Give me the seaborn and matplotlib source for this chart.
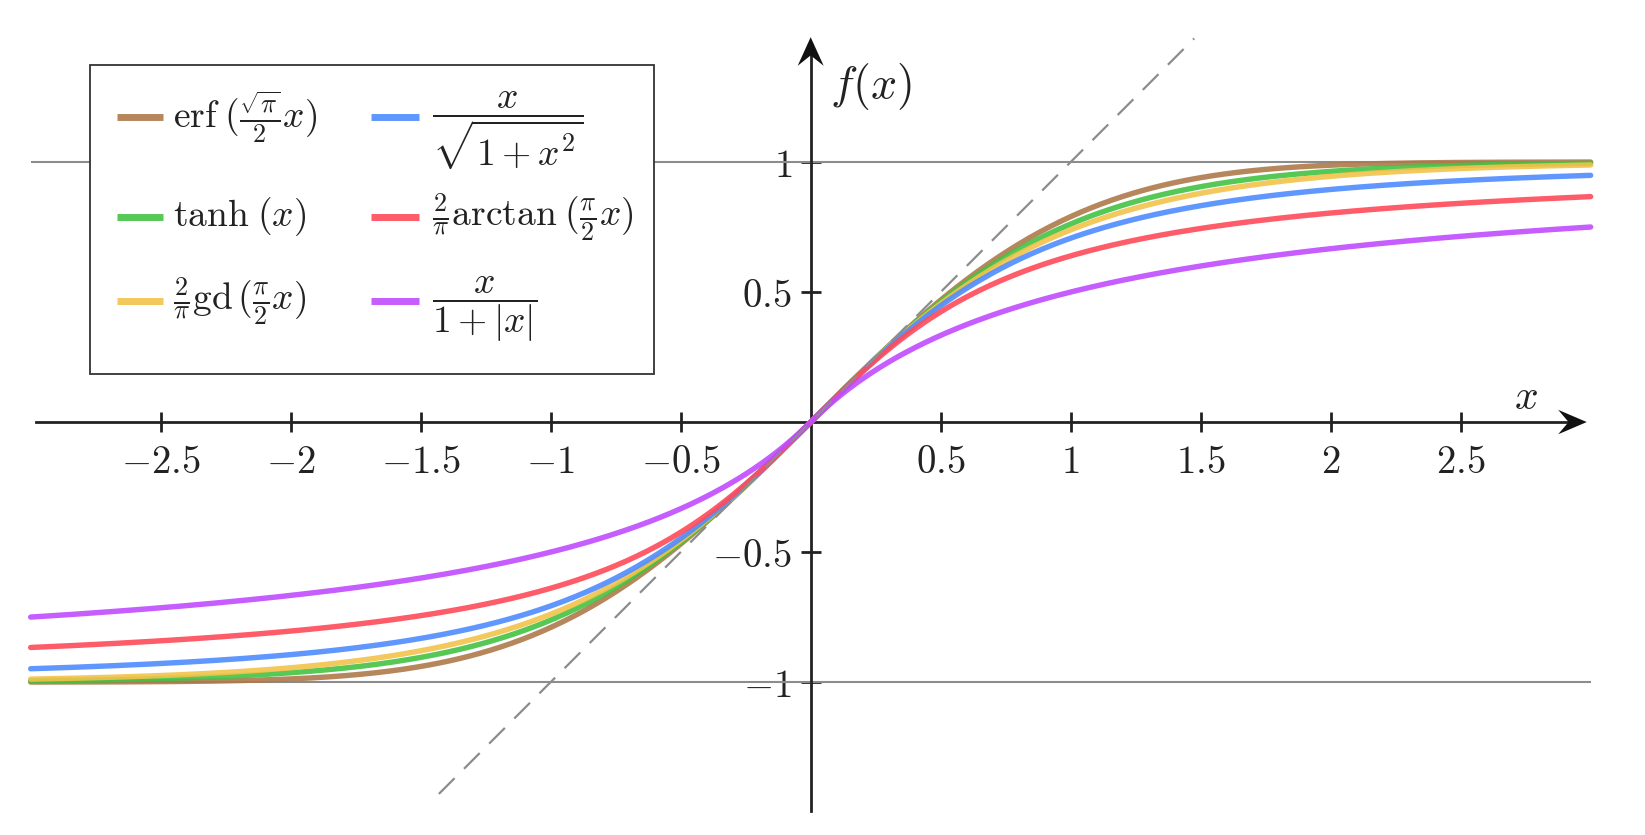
import math
import numpy as np
import pandas as pd
import matplotlib
matplotlib.use("Agg")
import matplotlib.pyplot as plt
from matplotlib.patches import Rectangle
import seaborn as sns

# function labels (key order: column 1 then column 2) and colours
labels = [
    r"$\mathrm{erf}\;(\frac{\sqrt{\pi}}{2}x)$",
    r"$\mathrm{tanh}\;(x)$",
    r"$\frac{2}{\pi}\mathrm{gd}\,(\frac{\pi}{2}x)$",
    r"$\dfrac{x}{\sqrt{1+x^2}}$",
    r"$\frac{2}{\pi}\mathrm{arctan}\;(\frac{\pi}{2}x)$",
    r"$\dfrac{x}{1+|x|}$",
]
colors = ["#AE7A4A", "#44C244", "#F2C24A", "#4F8CFF", "#FF4A5A", "#C04BFF"]

x_ticks = [-2.5, -2, -1.5, -1, -0.5, 0.5, 1, 1.5, 2, 2.5]
x_tick_labels = [r"$-2.5$", r"$-2$", r"$-1.5$", r"$-1$", r"$-0.5$",
                 r"$0.5$", r"$1$", r"$1.5$", r"$2$", r"$2.5$"]
y_ticks = [-1, -0.5, 0.5, 1]
y_tick_labels = [r"$-1$", r"$-0.5$", r"$0.5$", r"$1$"]

x = np.linspace(-3, 3, 601)
erf = np.vectorize(math.erf)
curves = [
    erf(np.sqrt(np.pi) / 2 * x),
    np.tanh(x),
    4 / np.pi * np.arctan(np.tanh(np.pi * x / 4)),
    x / np.sqrt(1 + x ** 2),
    2 / np.pi * np.arctan(np.pi / 2 * x),
    x / (1 + np.abs(x)),
]

df = pd.concat(
    [pd.DataFrame({"x": x, "y": y, "f": lab}) for lab, y in zip(labels, curves)],
    ignore_index=True,
)

sns.set_style("white")
plt.rcParams["mathtext.fontset"] = "cm"
plt.rcParams["font.family"] = ["DejaVu Serif"]

W, H = 1645, 835
fig = plt.figure(figsize=(W / 100, H / 100), dpi=100)
ax = fig.add_axes([0, 0, 1, 1])
ax.set_xlim(-3.118, 3.209)
ax.set_ylim(-1.588, 1.623)

# asymptotes and identity line
ax.hlines([-1, 1], -3, 3, color="#8c8c8c", lw=1.5, zorder=1)
ax.plot([-1.43, 1.475], [-1.43, 1.475], color="#8c8c8c", lw=1.6,
        ls=(0, (10, 6)), zorder=4)

sns.lineplot(data=df, x="x", y="y", hue="f", hue_order=labels,
             palette=colors, estimator=None, sort=False, lw=3.9,
             alpha=0.9, ax=ax, zorder=3, legend=False)

# axes through the origin
for side in ["top", "right"]:
    ax.spines[side].set_visible(False)
ax.spines["bottom"].set_position(("data", 0))
ax.spines["left"].set_position(("data", 0))
ax.spines["bottom"].set_bounds(-2.98, 2.93)
ax.spines["left"].set_bounds(-1.495, 1.42)
for side in ["bottom", "left"]:
    ax.spines[side].set_color("#222222")
    ax.spines[side].set_linewidth(2)

ax.set_xticks(x_ticks, x_tick_labels)
ax.set_yticks(y_ticks, y_tick_labels)
ax.tick_params(axis="both", direction="inout", length=15, width=2,
               bottom=True, left=True, color="#222222", labelsize=28,
               labelcolor="#222222")
ax.tick_params(axis="x", pad=8)
ax.tick_params(axis="y", pad=6)
for lbl in ax.get_yticklabels():
    lbl.set_bbox(dict(facecolor="white", edgecolor="none", pad=2))
ax.set_xlabel("")
ax.set_ylabel("")

# stealth arrow heads
ax.fill([2.985, 2.875, 2.915, 2.875], [0, 0.047, 0, -0.047],
        color="#111111", zorder=4, lw=0)
ax.fill([0, 0.05, 0, -0.05], [1.48, 1.37, 1.41, 1.37],
        color="#111111", zorder=4, lw=0)

ax.text(2.75, 0.095, r"$x$", fontsize=30, ha="center", va="center",
        color="#222222")
ax.text(0.23, 1.29, r"$f(x)$", fontsize=33, ha="center", va="center",
        color="#222222")

# key box, two columns with rows aligned across columns (pixel layout)
def fx(px):
    return px / W

def fy(py):
    return 1 - py / H

ax.add_patch(Rectangle((fx(90), fy(374)), fx(654) - fx(90), fy(65) - fy(374),
                       transform=ax.transAxes, facecolor="white",
                       edgecolor="#333333", lw=1.3, zorder=5))
key_cols = [(117, 163, 173), (371, 419, 432)]
key_rows = [117, 217, 301]
text_shift = [0, 0, 0, 14, 0, 8]
for i, (lab, col) in enumerate(zip(labels, colors)):
    x0, x1, xt = key_cols[i // 3]
    yy = key_rows[i % 3]
    ax.plot([fx(x0), fx(x1)], [fy(yy), fy(yy)], transform=ax.transAxes,
            color=col, lw=5, alpha=0.9, solid_capstyle="butt", zorder=6)
    ax.text(fx(xt), fy(yy + text_shift[i]), lab, transform=ax.transAxes,
            fontsize=27, ha="left", va="center", color="#222222", zorder=6)

fig.savefig("out.png", dpi=100, facecolor="white")
